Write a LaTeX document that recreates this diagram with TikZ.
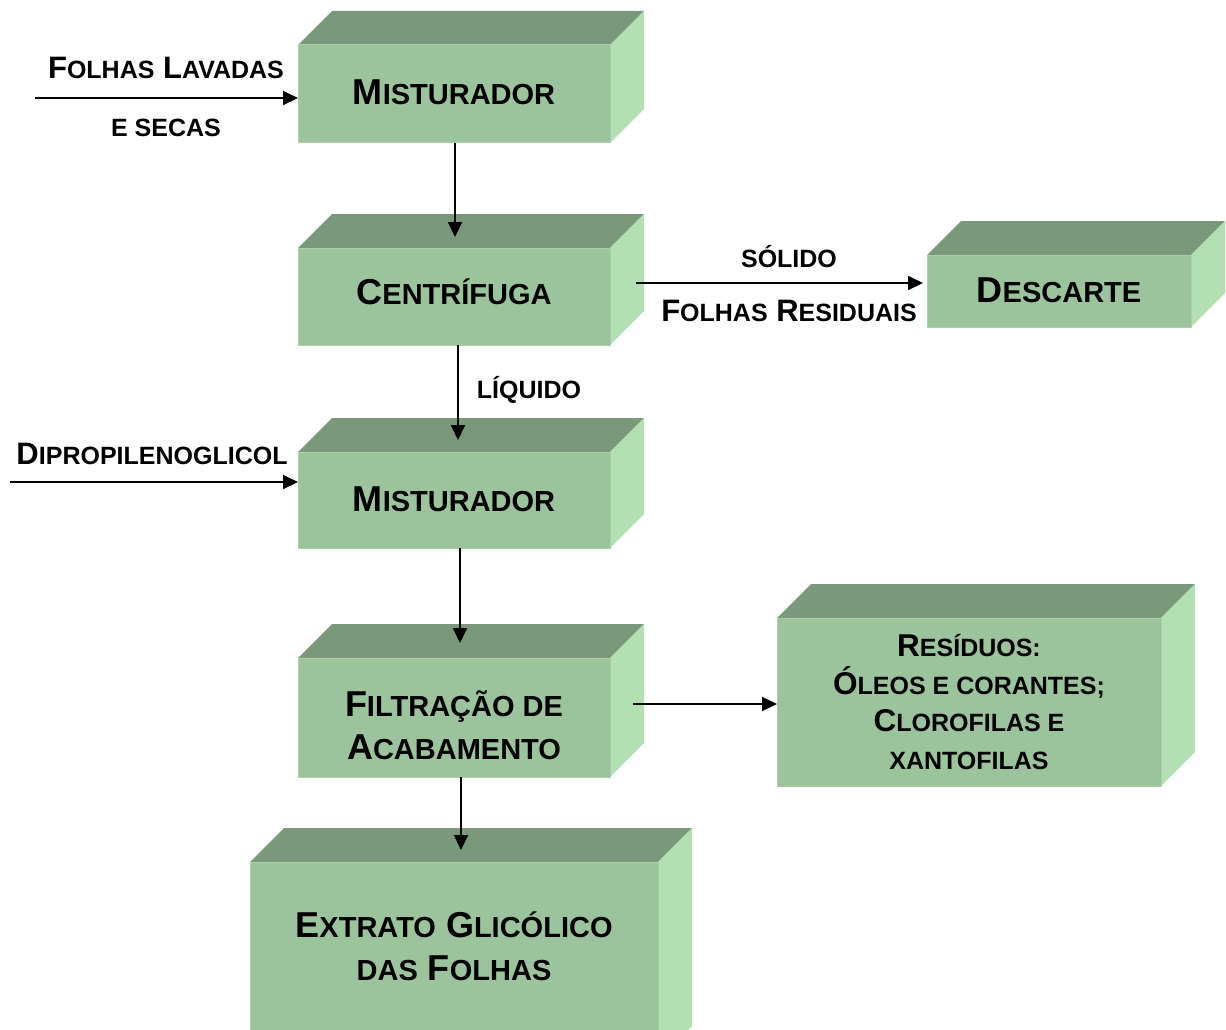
\documentclass[tikz,border=0pt]{standalone}
\usepackage{fontspec}
\setmainfont{Liberation Sans}
\usetikzlibrary{arrows.meta,calc}
\definecolor{frontc}{RGB}{156,196,156}
\definecolor{topc}{RGB}{122,152,122}
\definecolor{sidec}{RGB}{178,224,178}
\definecolor{edgec}{RGB}{170,208,170}
\def\smsz{29}
\newcommand\sm[1]{{\fontsize{\smsz}{\smsz}\selectfont #1}}
% name, x1, y1, x2, y2
\newcommand\cube[5]{%
  \fill[topc] (#2,#3) -- (#2+34,#3-34) -- (#4+34,#3-34) -- (#4,#3) -- cycle;
  \fill[sidec] (#4,#3) -- (#4+34,#3-34) -- (#4+34,#5-34) -- (#4,#5) -- cycle;
  \node[frontface, anchor=north west, minimum width={#4-#2}, minimum height={#5-#3}] (#1) at (#2,#3) {};
}
\begin{document}
\begin{tikzpicture}[x=1pt,y=-1pt,
  frontface/.style={fill=frontc, draw=edgec, line width=1pt, inner sep=0pt, outer sep=0pt},
  boxtext/.style={font=\def\smsz{29}\fontsize{36}{43}\selectfont\bfseries, align=center, inner sep=0pt},
  restext/.style={font=\def\smsz{25}\fontsize{31.5}{37.5}\selectfont\bfseries, align=center, inner sep=0pt},
  labtext/.style={font=\def\smsz{25}\fontsize{31}{37}\selectfont\bfseries, align=center, inner sep=0pt, text height=18pt, text depth=0pt},
  arr/.style={line width=2pt, -{Triangle[length=15pt,width=14pt]}}]
\useasboundingbox (0,0) rectangle (1226,1030);
\clip (0,0) rectangle (1226,1030);

\cube{m1}{298}{45}{610}{143}
\cube{cf}{298}{248}{610}{345}
\cube{ds}{927}{255}{1191}{327}
\cube{m2}{298}{452}{610}{548}
\cube{fa}{298}{658}{610}{777}
\cube{rs}{777}{618}{1161}{786}
\cube{ex}{250}{862}{658}{1060}

\node[boxtext, text height=26pt, text depth=0pt] (t1) at (454,92) {M\sm{ISTURADOR}};
\node[boxtext, text height=26pt, text depth=0pt] (t2) at (454,291) {C\sm{ENTRÍFUGA}};
\node[boxtext, text height=26pt, text depth=0pt] (t3) at (1059,289) {D\sm{ESCARTE}};
\node[boxtext, text height=26pt, text depth=0pt] (t4) at (454,498) {M\sm{ISTURADOR}};
\node[boxtext] (t5) at (454,725) {F\sm{ILTRAÇÃO DE}\\A\sm{CABAMENTO}};
\node[restext] (t6) at (969,702) {R\sm{ESÍDUOS:}\\Ó\sm{LEOS E CORANTES;}\\C\sm{LOROFILAS E}\\\sm{XANTOFILAS}};
\node[boxtext] (t7) at (454,946) {E\sm{XTRATO} G\sm{LICÓLICO}\\\sm{DAS} F\sm{OLHAS}};

% inputs
\coordinate (in1) at (35,98);
\draw[arr] (in1) -- (m1.west |- in1);
\node[labtext] (l1) at (166,70) {F\sm{OLHAS} L\sm{AVADAS}};
\node[labtext] (l2) at (166,127) {\sm{E SECAS}};

\coordinate (in2) at (10,482);
\draw[arr] (in2) -- (m2.west |- in2);
\node[labtext] (l3) at (152,455) {D\sm{IPROPILENOGLICOL}};

% flow
\coordinate (e1) at (455,237);
\draw[arr] (m1.south -| e1) -- (e1);

\coordinate (s2) at (636,283);
\draw[arr, shorten >=4pt] (s2) -- (ds.west |- s2);
\node[labtext] (l4) at (789,258) {\sm{SÓLIDO}};
\node[labtext] (l5) at (789,312) {F\sm{OLHAS} R\sm{ESIDUAIS}};

\coordinate (e3) at (458,440);
\draw[arr] (cf.south -| e3) -- (e3);
\node[labtext] (l6) at (529,389) {\sm{LÍQUIDO}};

\coordinate (e4) at (460,643);
\draw[arr] (m2.south -| e4) -- (e4);

\coordinate (s5) at (633,704);
\draw[arr] (s5) -- (rs.west |- s5);

\coordinate (e6) at (461,850);
\draw[arr] (fa.south -| e6) -- (e6);
\end{tikzpicture}
\end{document}
